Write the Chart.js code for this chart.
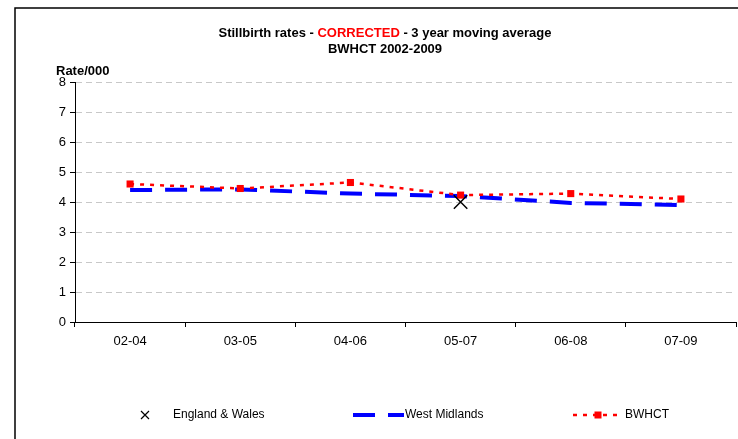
<!DOCTYPE html>
<html>
<head>
<meta charset="utf-8">
<script src="https://cdn.jsdelivr.net/npm/chart.js@4.4.0/dist/chart.umd.min.js"></script>
<style>
  html, body { margin: 0; padding: 0; background: #fff; }
</style>
</head>
<body>
<canvas id="chart" width="738" height="439"></canvas>
<script>
const periods = ['02-04', '03-05', '04-06', '05-07', '06-08', '07-09'];
const england_wales = [null, null, null, 4.0, null, null];
const west_midlands = [4.4, 4.42, 4.28, 4.2, 3.97, 3.9];
const bwhct = [4.6, 4.45, 4.65, 4.23, 4.28, 4.1];
const y_min = 0;
const y_max = 8;
const y_step = 1;
const title_line1 = [['Stillbirth rates - ', '#000'], ['CORRECTED', '#ff0000'], [' - 3 year moving average', '#000']];
const title_line2 = 'BWHCT 2002-2009';
const y_title = 'Rate/000';

const FONT = '"Liberation Sans", Arial, sans-serif';

// frame, title, axis caption and legend drawn by hand (Excel style)
const excel_bits = {
  id: 'excel_bits',
  afterDraw(chart) {
    const c = chart.ctx;
    c.save();

    c.strokeStyle = '#000';
    c.lineWidth = 1.5;
    c.strokeRect(15, 8, 740, 440);

    // title
    c.font = 'bold 13px ' + FONT;
    c.textBaseline = 'middle';
    c.textAlign = 'left';
    const total = title_line1.reduce((w, [t]) => w + c.measureText(t).width, 0);
    let x = 385 - total / 2;
    for (const [t, col] of title_line1) {
      c.fillStyle = col;
      c.fillText(t, x, 33);
      x += c.measureText(t).width;
    }
    c.fillStyle = '#000';
    c.textAlign = 'center';
    c.fillText(title_line2, 385, 49);

    c.textAlign = 'left';
    c.fillText(y_title, 56, 71);

    // legend
    const ly = 415;
    const ds = chart.data.datasets;
    c.font = '12px ' + FONT;

    // england & wales: X marker
    c.strokeStyle = '#000';
    c.lineWidth = 1.2;
    c.beginPath();
    c.moveTo(141, ly - 4); c.lineTo(149, ly + 4);
    c.moveTo(149, ly - 4); c.lineTo(141, ly + 4);
    c.stroke();
    c.fillStyle = '#000';
    c.fillText(ds[0].label, 173, ly);

    // west midlands: dashed blue
    c.strokeStyle = ds[1].borderColor;
    c.lineWidth = ds[1].borderWidth;
    c.setLineDash(ds[1].borderDash);
    c.beginPath();
    c.moveTo(353, ly); c.lineTo(404, ly);
    c.stroke();
    c.fillText(ds[1].label, 405, ly);

    // bwhct: dotted red with square
    c.strokeStyle = ds[2].borderColor;
    c.lineWidth = ds[2].borderWidth;
    c.setLineDash(ds[2].borderDash);
    c.beginPath();
    c.moveTo(573, ly); c.lineTo(623, ly);
    c.stroke();
    c.setLineDash([]);
    c.fillStyle = ds[2].pointBackgroundColor;
    c.fillRect(594.5, ly - 3.5, 7, 7);
    c.fillStyle = '#000';
    c.fillText(ds[2].label, 625, ly);

    c.restore();
  }
};

const ctx = document.getElementById('chart').getContext('2d');
const chart = new Chart(ctx, {
  type: 'line',
  data: {
    labels: periods,
    datasets: [
      {
        label: 'England & Wales',
        data: england_wales,
        showLine: false,
        pointStyle: 'crossRot',
        pointRadius: 9.5,
        borderColor: '#000',
        backgroundColor: '#000',
        borderWidth: 1.5,
        order: 0,
      },
      {
        label: 'West Midlands',
        data: west_midlands,
        borderColor: '#0000ff',
        backgroundColor: '#0000ff',
        borderWidth: 4,
        borderDash: [22, 13],
        pointRadius: 0,
        tension: 0,
        order: 2,
      },
      {
        label: 'BWHCT',
        data: bwhct,
        borderColor: '#ff0000',
        backgroundColor: '#ff0000',
        pointBackgroundColor: '#ff0000',
        borderWidth: 2.5,
        borderDash: [4, 6],
        pointStyle: 'rect',
        pointRadius: 5,
        pointBorderWidth: 0,
        tension: 0,
        order: 1,
      },
    ],
  },
  options: {
    responsive: false,
    animation: false,
    devicePixelRatio: 1,
    layout: { autoPadding: false, padding: { top: 82, right: 2, left: 0, bottom: 0 } },
    plugins: {
      legend: { display: false },
      title: { display: false },
      tooltip: { enabled: false },
    },
    scales: {
      x: {
        type: 'category',
        offset: true,
        grid: { offset: true, drawOnChartArea: false, color: '#000', tickLength: 5 },
        border: { color: '#000', width: 1 },
        ticks: { color: '#000', font: { family: FONT, size: 13 }, padding: 7, maxRotation: 0 },
        afterFit(s) { s.height = 117; },
      },
      y: {
        min: y_min,
        max: y_max,
        ticks: { stepSize: y_step, color: '#000', font: { family: FONT, size: 13 }, padding: 4 },
        grid: {
          color: (c) => (c.tick && c.tick.value === 0 ? 'rgba(0,0,0,0)' : '#c8c8c8'),
          tickColor: '#000',
          tickLength: 5,
          tickBorderDash: [],
        },
        border: { color: '#000', width: 1, dash: [6, 4] },
        afterFit(s) { s.width = 75; },
      },
    },
  },
  plugins: [excel_bits],
});
</script>
</body>
</html>
